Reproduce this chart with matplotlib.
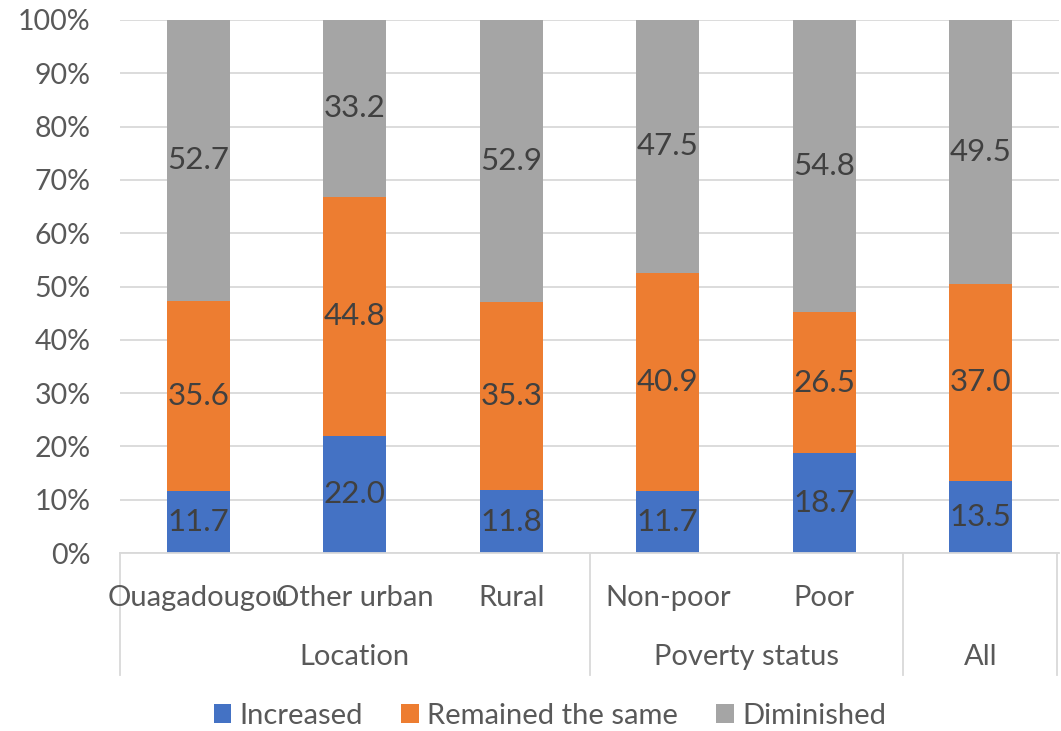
import matplotlib.pyplot as plt
from matplotlib.patches import Patch
import matplotlib.transforms as mtransforms

plt.rcParams['font.family'] = ['Lato', 'DejaVu Sans']

# data
categories = ["Ouagadougou", "Other urban", "Rural", "Non-poor", "Poor", ""]
groups = ["Location", "Poverty status", "All"]
group_spans = [(0, 2), (3, 4), (5, 5)]
increased = [11.7, 22.0, 11.8, 11.7, 18.7, 13.5]
same = [35.6, 44.8, 35.3, 40.9, 26.5, 37.0]
diminished = [52.7, 33.2, 52.9, 47.5, 54.8, 49.5]
series_names = ["Increased", "Remained the same", "Diminished"]
colors = ["#4472C4", "#ED7D31", "#A5A5A5"]

fig = plt.figure(figsize=(10.61, 7.31), dpi=100)
ax = fig.add_axes([120 / 1061, 1 - 553 / 731, 939 / 1061, 533 / 731])

x = list(range(len(categories)))
bottom = [0] * len(x)
for vals, col in zip([increased, same, diminished], colors):
    bars = ax.bar(x, vals, 0.4, bottom=bottom, color=col, zorder=2)
    for b, v, bt in zip(bars, vals, bottom):
        ax.text(b.get_x() + b.get_width() / 2, bt + v / 2, f"{v:.1f}",
                ha='center', va='center', fontsize=22.5, color='#404040', zorder=3)
    bottom = [a + b for a, b in zip(bottom, vals)]

ax.set_xlim(-0.5, 5.5)
ax.set_ylim(0, 100)
ax.set_yticks(range(0, 101, 10))
ax.set_yticklabels([f"{v}%" for v in range(0, 101, 10)])
ax.tick_params(axis='y', length=0, labelsize=20.5, labelcolor='#595959', pad=21)
ax.set_xticks([])
ax.grid(axis='y', color='#D9D9D9', linewidth=1.3, zorder=0)
for s in ['top', 'right', 'left']:
    ax.spines[s].set_visible(False)
ax.spines['bottom'].set_color('#D9D9D9')
ax.spines['bottom'].set_linewidth(1.3)

trans = mtransforms.blended_transform_factory(ax.transData, ax.transAxes)
for i, c in enumerate(categories):
    ax.text(i, -0.084, c, transform=trans, ha='center', va='center',
            fontsize=21, color='#595959')
for g, (a, b) in zip(groups, group_spans):
    ax.text((a + b) / 2, -0.195, g, transform=trans, ha='center', va='center',
            fontsize=21, color='#595959')
for sx in [-0.5, 2.5, 4.5, 5.49]:
    ax.plot([sx, sx], [0, -0.229], transform=trans, color='#D9D9D9',
            linewidth=1.3, clip_on=False)

handles = [Patch(facecolor=c, label=n) for c, n in zip(colors, series_names)]
fig.legend(handles=handles, loc='center', bbox_to_anchor=(550 / 1061, 1 - 716 / 731),
           ncol=3, frameon=False, fontsize=21, labelcolor='#595959',
           handlelength=0.6, handleheight=0.6, handletextpad=0.3, columnspacing=1.3)

fig.savefig("out.png", dpi=100)
